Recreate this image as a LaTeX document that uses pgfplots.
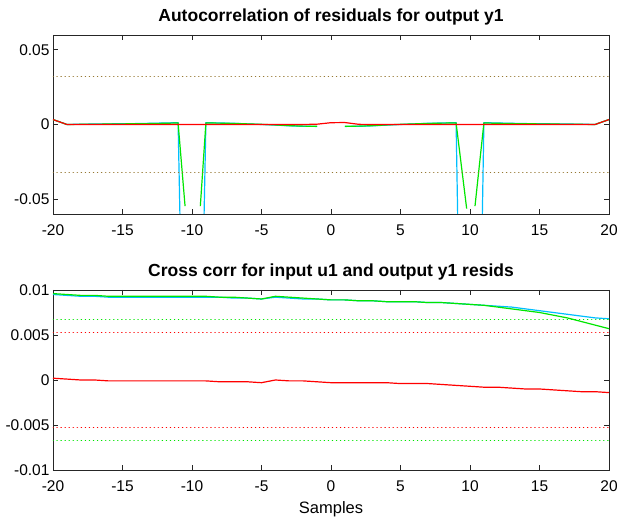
\documentclass[border=0pt]{standalone}
\usepackage{fontspec}
\setmainfont{Liberation Sans}
\usepackage{pgfplots}
\usepackage{pgfplotstable}
\pgfplotsset{compat=1.18}
\definecolor{oc}{RGB}{0,190,255}
\definecolor{og}{RGB}{0,230,0}
\definecolor{orr}{RGB}{255,0,0}
\definecolor{dotb}{RGB}{150,120,50}
\definecolor{axc}{RGB}{38,38,38}

\pgfplotstableread{
lag g c r
-20 0.0096 0.0095 0.0002
-19 0.0095 0.0094 0.0001
-18 0.0094 0.0093 0.0000
-17 0.0094 0.0093 0.0000
-16 0.0093 0.0092 -0.0001
-15 0.0093 0.0092 -0.0001
-14 0.0093 0.0092 -0.0001
-13 0.0093 0.0092 -0.0001
-12 0.0093 0.0092 -0.0001
-11 0.0093 0.0092 -0.0001
-10 0.0093 0.0092 -0.0001
-9 0.0093 0.0092 -0.0001
-8 0.0092 0.0092 -0.0002
-7 0.0092 0.0091 -0.0002
-6 0.0091 0.0091 -0.0002
-5 0.0090 0.0090 -0.0003
-4 0.0093 0.0092 0.0000
-3 0.0092 0.0091 -0.0001
-2 0.0091 0.0090 -0.0001
-1 0.0090 0.0090 -0.0002
0 0.0089 0.0089 -0.0003
1 0.0089 0.0089 -0.0003
2 0.0088 0.0088 -0.0003
3 0.0088 0.0088 -0.0003
4 0.0087 0.0087 -0.0003
5 0.0087 0.0087 -0.0004
6 0.0087 0.0087 -0.0004
7 0.0086 0.0086 -0.0004
8 0.0086 0.0086 -0.0005
9 0.0085 0.0085 -0.0006
10 0.0084 0.0084 -0.0007
11 0.0083 0.0083 -0.0008
12 0.0081 0.0082 -0.0008
13 0.0079 0.0081 -0.0009
14 0.0077 0.0079 -0.0010
15 0.0075 0.0077 -0.0010
16 0.0072 0.0075 -0.0011
17 0.0069 0.0073 -0.0012
18 0.0065 0.0071 -0.0013
19 0.0061 0.0069 -0.0013
20 0.0057 0.0068 -0.0014
}\crosstab

\pgfplotsset{octstyle/.style={
  scale only axis, width=556pt, height=179pt,
  xmin=-20, xmax=20,
  axis line style={axc, line width=0.8pt},
  every tick/.style={axc, line width=0.8pt},
  tick align=inside, major tick length=5pt,
  xtick={-20,-15,-10,-5,0,5,10,15,20},
  xticklabels={-20,-15,-10,-5,0,5,10,15,20},
  scaled y ticks=false, scaled x ticks=false,
  tick label style={font=\fontsize{15.5}{18}\selectfont},
  xticklabel style={anchor=base, yshift=-21.5pt},
  /pgf/number format/assume math mode=true,
  title style={font=\bfseries\fontsize{17.5}{21}\selectfont, at={(0.5,1)}, anchor=base, yshift=7pt},
  unbounded coords=jump,
  every axis plot/.append style={line width=1.2pt},
  dotl/.style={line width=1.5pt, line cap=round, dash pattern=on 0.05pt off 4pt},
}}

\begin{document}
\begin{tikzpicture}
\useasboundingbox (0,0) rectangle (619pt,518pt);
\begin{axis}[octstyle, at={(53pt,304pt)}, anchor=south west,
  ymin=-0.06, ymax=0.06,
  ytick={-0.05,0,0.05}, yticklabels={-0.05,0,0.05},
  title={Autocorrelation of residuals for output y1}]
\addplot[color=oc] coordinates {(-20,0.0033)(-19,0)(-18,0.0002)(-17,0.0003)(-16,0.0004)(-15,0.0005)(-14,0.0006)(-13,0.0008)(-12,0.001)(-11,0.0012)(-10,-0.47)(-9,0.0012)(-8,0.001)(-7,0.0008)(-6,0.0004)(-5,0)(-4,-0.0004)(-3,-0.0009)(-2,-0.0012)(-1,-0.0013)(0,nan)(1,-0.0013)(2,-0.0012)(3,-0.0009)(4,-0.0004)(5,0)(6,0.0004)(7,0.0008)(8,0.001)(9,0.0012)(10,-0.55)(11,0.0012)(12,0.001)(13,0.0008)(14,0.0006)(15,0.0005)(16,0.0004)(17,0.0003)(18,0.0002)(19,0)(20,0.0033)};
\addplot[color=og] coordinates {(-20,0.0033)(-19,0)(-18,0.0001)(-17,0.0002)(-16,0.0003)(-15,0.0004)(-14,0.0005)(-13,0.0006)(-12,0.0008)(-11,0.001)(-10.5,-0.0547)(-10,nan)(-9.4,-0.0547)(-9,0.001)(-8,0.0009)(-7,0.0007)(-6,0.0004)(-5,0.0001)(-4,-0.0003)(-3,-0.0008)(-2,-0.0011)(-1,-0.0012)(0,nan)(1,-0.0012)(2,-0.0011)(3,-0.0008)(4,-0.0003)(5,0.0001)(6,0.0004)(7,0.0007)(8,0.0009)(9,0.001)(9.76,-0.0564)(10,nan)(10.36,-0.0547)(11,0.001)(12,0.0008)(13,0.0006)(14,0.0005)(15,0.0004)(16,0.0003)(17,0.0002)(18,0.0001)(19,0)(20,0.0033)};
\addplot[color=orr] coordinates {(-20,0.0033)(-19,0)(-18,0)(-17,0)(-16,0)(-15,0)(-14,0)(-13,0)(-12,0)(-11,0)(-10,0)(-9,0)(-8,0)(-7,0)(-6,0)(-5,0)(-4,0)(-3,0)(-2,0)(-1,0.0002)(0,0.0012)(1,0.0013)(2,0.0001)(3,0)(4,0)(5,0)(6,0)(7,0)(8,0)(9,0)(10,0)(11,0)(12,0)(13,0)(14,0)(15,0)(16,0)(17,0)(18,0)(19,0)(20,0.0033)};
\addplot[color=dotb, dotl] coordinates {(-20,0.0323)(20,0.0323)};
\addplot[color=dotb, dotl] coordinates {(-20,-0.0323)(20,-0.0323)};
\end{axis}
\begin{axis}[octstyle, at={(53pt,48pt)}, anchor=south west, height=180pt,
  ymin=-0.01, ymax=0.01,
  ytick={-0.01,-0.005,0,0.005,0.01}, yticklabels={-0.01,-0.005,0,0.005,0.01},
  title={Cross corr for input u1 and output y1 resids},
  xlabel={Samples},
  xlabel style={font=\fontsize{16.5}{19}\selectfont, at={(axis description cs:0.5,0)}, anchor=base, yshift=-44pt}]
\addplot[color=oc] table[x=lag, y=c] {\crosstab};
\addplot[color=og] table[x=lag, y=g] {\crosstab};
\addplot[color=orr] table[x=lag, y=r] {\crosstab};
\addplot[color=og, dotl] coordinates {(-20,0.0067)(20,0.0067)};
\addplot[color=og, dotl] coordinates {(-20,-0.0067)(20,-0.0067)};
\addplot[color=orr, dotl] coordinates {(-20,0.0053)(20,0.0053)};
\addplot[color=orr, dotl] coordinates {(-20,-0.0053)(20,-0.0053)};
\end{axis}
\end{tikzpicture}
\end{document}
